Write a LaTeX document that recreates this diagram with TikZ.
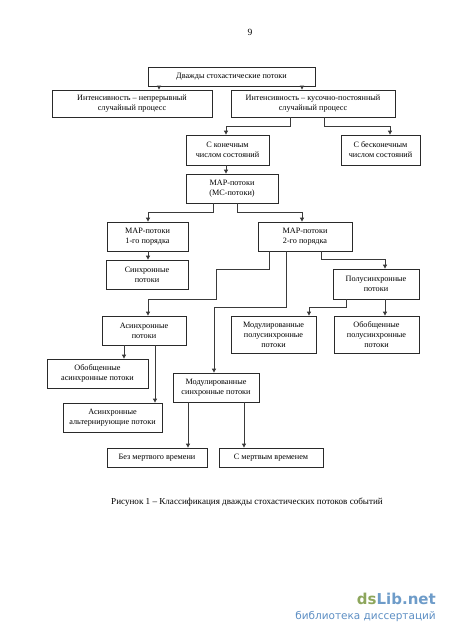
\documentclass[tikz,border=0pt]{standalone}
\usepackage{fontspec}
\setmainfont{Liberation Serif}
\newfontfamily\wmfont{DejaVu Sans}
\usetikzlibrary{arrows.meta}
\definecolor{boxc}{HTML}{2A2A2A}
\definecolor{linec}{HTML}{3A3A3A}
\definecolor{wmgreen}{HTML}{8DA65C}
\definecolor{wmblue}{HTML}{6E9CC9}
\definecolor{wmblue2}{HTML}{5D8FC4}
\tikzset{
  bx/.style={draw=boxc, line width=0.8pt, inner sep=0pt, align=center,
    font=\fontsize{8.2}{10}\selectfont},
  conn/.style={draw=linec, line width=0.9pt},
  arr/.style={conn, -{Triangle[length=4pt,width=4pt]}},
}
\begin{document}
\begin{tikzpicture}[x=1pt,y=-1pt]
\useasboundingbox[fill=white] (0,0) rectangle (450,637);
\node[font=\fontsize{9.5}{11}\selectfont] (pg) at (250,32) {9};
\node[bx, minimum width=167pt, minimum height=19pt] (top) at (231.5,76.5) {Дважды стохастические потоки};
\node[bx, minimum width=160pt, minimum height=27pt] (L1) at (132,103.5) {Интенсивность – непрерывный\\случайный процесс};
\node[bx, minimum width=164pt, minimum height=27pt] (R1) at (313,103.5) {Интенсивность – кусочно-постоянный\\случайный процесс};
\node[bx, minimum width=83pt, minimum height=30pt] (fin) at (227.5,150) {С конечным\\числом состояний};
\node[bx, minimum width=79pt, minimum height=30pt] (inf) at (380.5,150) {С бесконечным\\числом состояний};
\node[bx, minimum width=92pt, minimum height=29pt] (map) at (232,188.5) {MAP-потоки\\(MC-потоки)};
\node[bx, minimum width=81pt, minimum height=29pt] (map1) at (147.5,236.5) {MAP-потоки\\1-го порядка};
\node[bx, minimum width=94pt, minimum height=29pt] (map2) at (305,236.5) {MAP-потоки\\2-го порядка};
\node[bx, minimum width=82pt, minimum height=29pt] (sync) at (147,274.5) {Синхронные\\потоки};
\node[bx, minimum width=86pt, minimum height=30pt] (semi) at (376,284) {Полусинхронные\\потоки};
\node[bx, minimum width=84pt, minimum height=29pt] (async) at (144,330.5) {Асинхронные\\потоки};
\node[bx, minimum width=85pt, minimum height=37pt] (modsemi) at (273.5,334.5) {Модулированные\\полусинхронные\\потоки};
\node[bx, minimum width=85pt, minimum height=37pt] (gensemi) at (376.5,334.5) {Обобщенные\\полусинхронные\\потоки};
\node[bx, minimum width=101pt, minimum height=29pt] (genasync) at (97.5,373.5) {Обобщенные\\асинхронные потоки};
\node[bx, minimum width=99pt, minimum height=29pt] (alt) at (112.5,417.5) {Асинхронные\\альтернирующие потоки};
\node[bx, minimum width=86pt, minimum height=29pt] (modsync) at (216,387.5) {Модулированные\\синхронные потоки};
\node[bx, minimum width=100pt, minimum height=19pt] (nodead) at (157,457.5) {Без мертвого времени};
\node[bx, minimum width=104pt, minimum height=19pt] (dead) at (271,457.5) {С мертвым временем};
\node[font=\fontsize{9.1}{11}\selectfont] (cap) at (247,502) {Рисунок 1 – Классификация дважды стохастических потоков событий};
% connectors
\draw[arr] (159,0 |- top.south) -- (159,0 |- L1.north);
\draw[arr] (302,0 |- top.south) -- (302,0 |- R1.north);
\draw[arr] (290,0 |- R1.south) -- (290,126) -- (226,126) -- (226,0 |- fin.north);
\draw[arr] (324,0 |- R1.south) -- (324,126) -- (390,126) -- (390,0 |- inf.north);
\draw[arr] (226,0 |- fin.south) -- (226,0 |- map.north);
\draw[arr] (213,0 |- map.south) -- (213,212) -- (148,212) -- (148,0 |- map1.north);
\draw[arr] (237,0 |- map.south) -- (237,212) -- (302,212) -- (302,0 |- map2.north);
\draw[arr] (148,0 |- map1.south) -- (148,0 |- sync.north);
\draw[arr] (269,0 |- map2.south) -- (269,269) -- (216,269) -- (216,299) -- (148,299) -- (148,0 |- async.north);
\draw[arr] (286,0 |- map2.south) -- (286,307) -- (214,307) -- (214,0 |- modsync.north);
\draw[arr] (321,0 |- map2.south) -- (321,259) -- (385,259) -- (385,0 |- semi.north);
\draw[arr] (346,0 |- semi.south) -- (346,307) -- (309,307) -- (309,0 |- modsemi.north);
\draw[arr] (385,0 |- semi.south) -- (385,0 |- gensemi.north);
\draw[arr] (124,0 |- async.south) -- (124,0 |- genasync.north);
\draw[arr] (155,0 |- async.south) -- (155,0 |- alt.north);
\draw[arr] (188,0 |- modsync.south) -- (188,0 |- nodead.north);
\draw[arr] (244,0 |- modsync.south) -- (244,0 |- dead.north);
% watermark
\node[anchor=base east, inner sep=0pt, font=\wmfont\bfseries\fontsize{15}{15}\selectfont] (wm1) at (436,604) {\textcolor{wmgreen}{ds}\textcolor{wmblue}{Lib.net}};
\node[anchor=base east, inner sep=0pt, font=\wmfont\fontsize{10.5}{12}\selectfont, text=wmblue2] (wm2) at (436,619) {библиотека диссертаций};
\end{tikzpicture}
\end{document}
